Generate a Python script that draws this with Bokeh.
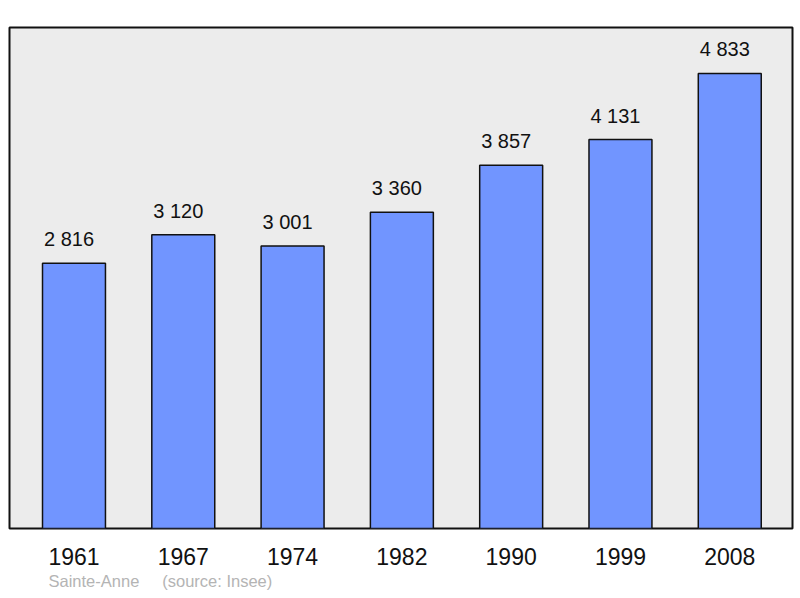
from bokeh.plotting import figure
from bokeh.models import Range1d, ColumnDataSource, Title, FixedTicker
from bokeh.embed import file_html
from bokeh.resources import INLINE
from bokeh.core.properties import value

years = ["1961", "1967", "1974", "1982", "1990", "1999", "2008"]
population = [2816, 3120, 3001, 3360, 3857, 4131, 4833]
value_labels = ["2 816", "3 120", "3 001", "3 360", "3 857", "4 131", "4 833"]
source_text = "Sainte-Anne\u00a0\u00a0\u00a0\u00a0\u00a0(source: Insee)"

xs = list(range(len(years)))
src = ColumnDataSource(dict(x=xs, top=population, lab=value_labels))

p = figure(width=794, height=598, output_backend="svg", toolbar_location=None,
           x_range=Range1d(-0.590, 6.574), y_range=Range1d(0, 5321),
           min_border_left=9, min_border_right=2, min_border_top=27, min_border_bottom=70)

p.background_fill_color = "#ececec"
p.border_fill_color = "white"
p.outline_line_color = "#111111"
p.outline_line_width = 2
p.grid.visible = False
p.yaxis.visible = False

p.vbar(x="x", top="top", bottom=0, width=0.576, source=src,
       fill_color="#7195ff", line_color="#111111", line_width=1.5)
p.text(x="x", y="top", text="lab", source=src, text_align="center",
       text_baseline="alphabetic", y_offset=-24, x_offset=-5,
       text_font=value("Liberation Sans"),
       text_font_size="20px", text_color="#111111")

p.xaxis.ticker = FixedTicker(ticks=xs)
p.xaxis.major_label_overrides = {i: y for i, y in enumerate(years)}
p.xaxis.axis_line_color = None
p.xaxis.major_tick_line_color = None
p.xaxis.minor_tick_line_color = None
p.xaxis.major_label_text_font = "Liberation Sans"
p.xaxis.major_label_text_font_size = "23px"
p.xaxis.major_label_text_color = "#111111"
p.xaxis.major_label_standoff = 13

p.add_layout(Title(text=source_text, align="left", offset=39, standoff=4,
                   text_font="Liberation Sans", text_font_size="16.5px",
                   text_font_style="normal", text_color="#b4b4b4"), "below")

open("out.html", "w").write(file_html(p, INLINE))
